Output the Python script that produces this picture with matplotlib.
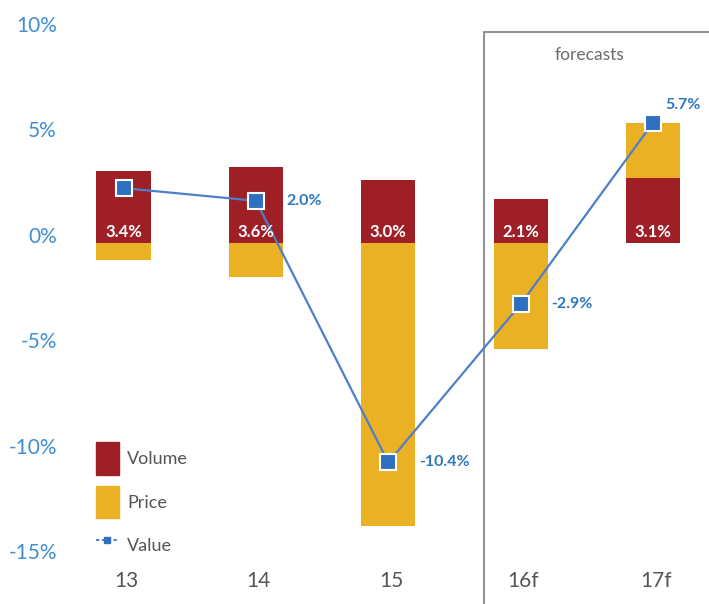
import matplotlib
matplotlib.use("Agg")
import matplotlib.pyplot as plt
from matplotlib.patches import Rectangle, Patch
from matplotlib.lines import Line2D
from matplotlib.legend_handler import HandlerPatch
from matplotlib.transforms import ScaledTranslation

plt.rcParams['font.family'] = ['Lato', 'DejaVu Sans']

# Data: annual growth decomposition (%)
years = ['13', '14', '15', '16f', '17f']
volume = [3.4, 3.6, 3.0, 2.1, 3.1]
price = [-0.8, -1.6, -13.4, -5.0, 2.6]
value = [2.6, 2.0, -10.4, -2.9, 5.7]
value_labelled = [False, True, True, True, True]
y_ticks = [10, 5, 0, -5, -10, -15]
forecast_start = 3

RED = '#9e1f26'
YELLOW = '#ebb124'
BLUE_LINE = '#4f7fc9'
BLUE_MARK = '#2f6fbf'
BLUE_TEXT = '#2e78c2'
TICK_BLUE = '#3f8fd2'
GREY_TEXT = '#555555'

fig = plt.figure(figsize=(7.09, 6.04), dpi=100)
ax = fig.add_axes([0.0959, 0.0212, 0.8998, 0.9608])
ax.set_xlim(-0.42, 4.4)
ax.set_ylim(-16.5, 11)

x = list(range(len(years)))
bar_w = 0.41

ax.bar(x, volume, width=bar_w, color=RED, zorder=2)
price_bottom = [v if p > 0 else 0 for v, p in zip(volume, price)]
ax.bar(x, price, width=bar_w, bottom=price_bottom, color=YELLOW, zorder=2)

ax.plot(x, value, color=BLUE_LINE, lw=1.6, zorder=3)
ax.plot(x, value, ls='none', marker='s', ms=12, mfc=BLUE_MARK,
        mec='white', mew=1.5, zorder=4)

# Volume labels near the zero line
for xi, v in zip(x, volume):
    ax.text(xi, 0.5, f'{v:.1f}%', ha='center', va='center', color='white',
            fontsize=12, fontweight='bold', zorder=5)

# Value labels beside the markers
for xi, v, show in zip(x, value, value_labelled):
    if not show:
        continue
    if v > 4:
        ax.annotate(f'{v:.1f}%', (xi, v), xytext=(9, 13), textcoords='offset points',
                    ha='left', va='center', color=BLUE_TEXT, fontsize=11.5,
                    fontweight='bold', zorder=5)
    else:
        ax.annotate(f'{v:.1f}%', (xi, v), xytext=(22, 0), textcoords='offset points',
                    ha='left', va='center', color=BLUE_TEXT, fontsize=11.5,
                    fontweight='bold', zorder=5)

# Forecast frame
fx = forecast_start - 0.28
ax.add_patch(Rectangle((fx, -25), 10, 35, fill=False, ec='#7d7d7d', lw=1.2,
                       clip_on=False, zorder=1))
ax.text(3.52, 8.9, 'forecasts', ha='center', va='center', color='#6b6b6b',
        fontsize=12.5)

# Category labels
for xi, lab in zip(x, years):
    ax.text(xi + 0.02, -16.0, lab, ha='center', va='center', color=GREY_TEXT,
            fontsize=15)

ax.set_xticks([])
ax.set_yticks(y_ticks)
ax.set_yticklabels([f'{t}%' for t in y_ticks])
ax.tick_params(axis='y', length=0, pad=8, labelsize=15, labelcolor=TICK_BLUE)
shift = ScaledTranslation(0, 6 / 72, fig.dpi_scale_trans)
for lab in ax.get_yticklabels():
    lab.set_transform(lab.get_transform() + shift)
for s in ax.spines.values():
    s.set_visible(False)


def tall_patch(legend, orig_handle, xdescent, ydescent, width, height, fontsize):
    return Rectangle((-xdescent, -ydescent), width, height)


handles = [Patch(color=RED), Patch(color=YELLOW),
           Line2D([], [], color=BLUE_MARK, ls='--', lw=1.2, marker='s', ms=5,
                  mfc=BLUE_MARK, mec=BLUE_MARK, dashes=(2, 1.5))]
leg = ax.legend(handles, ['Volume', 'Price', 'Value'], loc='upper left',
                bbox_to_anchor=(-0.21, -9.45), bbox_transform=ax.transData,
                frameon=False, fontsize=13, handlelength=1.28, handleheight=2.4,
                handletextpad=0.45, labelspacing=0.6, borderpad=0, borderaxespad=0,
                handler_map={Patch: HandlerPatch(patch_func=tall_patch)})
for t in leg.get_texts():
    t.set_color(GREY_TEXT)

fig.savefig('out.png', dpi=100, facecolor='white')
